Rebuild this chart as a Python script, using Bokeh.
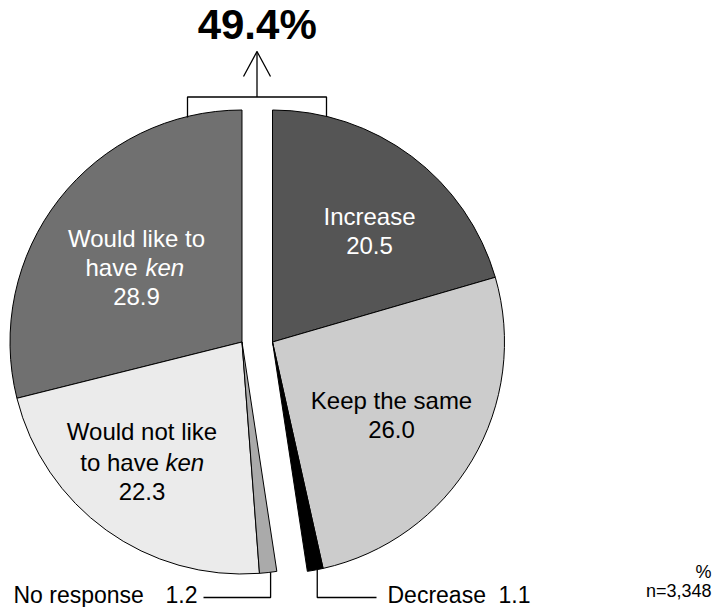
import math
from bokeh.plotting import figure
from bokeh.models import Range1d, ColumnDataSource
from bokeh.core.properties import value
from bokeh.embed import file_html
from bokeh.resources import INLINE

# ---- data ----
right_labels = ["Increase", "Keep the same", "Decrease"]
right_values = [20.5, 26.0, 1.1]
right_colors = ["#555555", "#cccccc", "#000000"]

left_labels = ["Would like to have ken", "Would not like to have ken", "No response"]
left_values = [28.9, 22.3, 1.2]
left_colors = ["#707070", "#ebebeb", "#aaaaaa"]

unit_note = "%"
sample_note = "n=3,348"

# ---- layout ----
W, H = 727, 607
FONT = value("Liberation Sans")
BASE_K = 0.38  # empirical baseline correction


def Y(sy):
    return H - sy


p = figure(width=W, height=H, x_range=Range1d(0, W), y_range=Range1d(0, H),
           output_backend="svg", toolbar_location=None, min_border=0)
p.axis.visible = False
p.grid.visible = False
p.outline_line_color = None
p.background_fill_color = "white"
p.border_fill_color = "white"

CX_L, CX_R, CY_S, R = 241.5, 272.0, 341.5, 232.0
CY = Y(CY_S)

# right group: clockwise from 12 o'clock
rs, re_ = [], []
cum = 0.0
for v in right_values:
    th0, th1 = cum * 3.6, (cum + v) * 3.6
    rs.append(math.radians(90 - th1))
    re_.append(math.radians(90 - th0))
    cum += v
right_src = ColumnDataSource(dict(x=[CX_R] * 3, y=[CY] * 3, s=rs, e=re_,
                                  c=right_colors, lab=right_labels, v=right_values))
p.wedge(x="x", y="y", radius=R, start_angle="s", end_angle="e", fill_color="c",
        line_color="black", line_width=1, source=right_src)

# left group: counter-clockwise from 12 o'clock
ls, le = [], []
cum = 0.0
for v in left_values:
    ph0, ph1 = cum * 3.6, (cum + v) * 3.6
    ls.append(math.radians(90 + ph0))
    le.append(math.radians(90 + ph1))
    cum += v
left_src = ColumnDataSource(dict(x=[CX_L] * 3, y=[CY] * 3, s=ls, e=le,
                                 c=left_colors, lab=left_labels, v=left_values))
p.wedge(x="x", y="y", radius=R, start_angle="s", end_angle="e", fill_color="c",
        line_color="black", line_width=1, source=left_src)


def txt(x, sy, s, size=24, color="black", align="center", style="normal"):
    p.text(x=[x], y=[Y(sy - BASE_K * size)], text=[s], text_font=FONT,
           text_font_size=f"{size}px", text_color=color, text_align=align,
           text_baseline="alphabetic", text_font_style=style)


fmt = lambda v: f"{v:.1f}"

# Would like to have ken
txt(136, 246.7, "Would like to", color="white")
txt(137, 276, "have", color="white", align="right")
txt(145, 276, "ken", color="white", align="left", style="italic")
txt(136, 305, fmt(left_values[0]), color="white")

# Increase
txt(369, 225, right_labels[0], color="white")
txt(369, 254, fmt(right_values[0]), color="white")

# Would not like to have ken
txt(141.5, 440, "Would not like")
txt(158.5, 471, "to have", align="right")
txt(165, 471, "ken", align="left", style="italic")
txt(141.5, 500, fmt(left_values[1]))

# Keep the same
txt(391, 409.5, right_labels[1])
txt(391, 438.5, fmt(right_values[1]))

# headline total with bracket & arrow
total = left_values[0] + right_values[0]
txt(256.7, 40, f"{total:.1f}%", size=42, style="bold")
LW = 1.3
p.line(x=[187, 187, 326, 326], y=[Y(117), Y(96.5), Y(96.5), Y(116)], line_color="black", line_width=LW)
p.line(x=[256.5, 256.5], y=[Y(96.5), Y(51)], line_color="black", line_width=LW)
p.line(x=[243, 256.5, 270], y=[Y(76), Y(51), Y(76)], line_color="black", line_width=LW)

# callouts for small slices
CALL_Y = 597
# No response (left group, last slice)
ph_mid = math.radians((sum(left_values[:2]) + left_values[2] / 2) * 3.6 + 0.6)
nx = CX_L - R * math.sin(ph_mid)
ny = CY_S - R * math.cos(ph_mid)
p.line(x=[nx, nx, 203], y=[Y(ny), Y(CALL_Y), Y(CALL_Y)], line_color="black", line_width=LW)
txt(13, 603, left_labels[2], size=23, align="left")
txt(197, 603, fmt(left_values[2]), size=23, align="right")

# Decrease (right group, last slice)
th_mid = math.radians((sum(right_values[:2]) + right_values[2] / 2) * 3.6 - 0.5)
dx = CX_R + R * math.sin(th_mid)
dy = CY_S - R * math.cos(th_mid)
p.line(x=[dx, dx, 376], y=[Y(dy), Y(CALL_Y), Y(CALL_Y)], line_color="black", line_width=LW)
txt(387, 603, right_labels[2], size=23, align="left")
txt(530, 603, fmt(right_values[2]), size=23, align="right")

# notes
txt(711, 578, unit_note, size=18, align="right")
txt(711, 597, sample_note, size=18, align="right")

open("out.html", "w").write(file_html(p, INLINE))
